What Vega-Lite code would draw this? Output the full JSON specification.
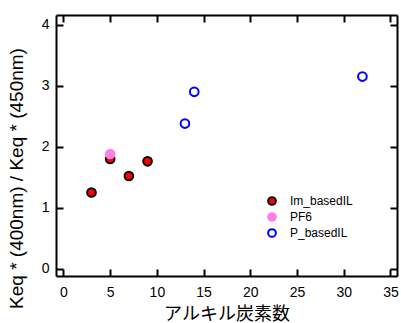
{
  "$schema": "https://vega.github.io/schema/vega-lite/v6.json",
  "width": 341,
  "height": 261,
  "autosize": {"type": "none"},
  "padding": {"left": 56, "top": 15, "right": 4, "bottom": 47},
  "background": "white",
  "config": {
    "view": {"stroke": null},
    "font": "Liberation Sans",
    "axis": {
      "domainColor": "black",
      "domainWidth": 2,
      "tickColor": "black",
      "tickWidth": 2,
      "tickSize": -7,
      "grid": false,
      "labelColor": "black",
      "titleColor": "black",
      "labelFont": "Liberation Sans",
      "labelFontSize": 14,
      "titleFontWeight": "normal"
    }
  },
  "data": {
    "values": [
      {"series": "Im_basedIL", "carbon": 3, "ratio": 1.25},
      {"series": "Im_basedIL", "carbon": 5, "ratio": 1.8},
      {"series": "Im_basedIL", "carbon": 7, "ratio": 1.52},
      {"series": "Im_basedIL", "carbon": 9, "ratio": 1.76},
      {"series": "PF6", "carbon": 5, "ratio": 1.88},
      {"series": "P_basedIL", "carbon": 13, "ratio": 2.38},
      {"series": "P_basedIL", "carbon": 14, "ratio": 2.9},
      {"series": "P_basedIL", "carbon": 32, "ratio": 3.15}
    ]
  },
  "layer": [
    {
      "mark": {"type": "point", "opacity": 0},
      "encoding": {
        "x": {"field": "carbon", "type": "quantitative",
          "scale": {"domain": [-0.8, 35.7], "nice": false, "zero": false},
          "axis": {"orient": "top", "labels": false, "title": null, "values": [0, 5, 10, 15, 20, 25, 30, 35]}},
        "y": {"field": "ratio", "type": "quantitative",
          "scale": {"domain": [-0.12, 4.16], "nice": false, "zero": false},
          "axis": {"orient": "right", "labels": false, "title": null, "values": [0, 1, 2, 3, 4]}}
      }
    },
    {
      "mark": {"type": "point", "shape": "circle", "size": 75, "strokeWidth": 2, "opacity": 1},
      "encoding": {
        "x": {"field": "carbon", "type": "quantitative",
          "axis": {"orient": "bottom", "title": "アルキル炭素数", "titleFont": "Noto Sans CJK JP", "titleFontSize": 18, "titlePadding": 6, "labelPadding": 16, "values": [0, 5, 10, 15, 20, 25, 30, 35]}},
        "y": {"field": "ratio", "type": "quantitative",
          "axis": {"orient": "left", "title": "Keq * (400nm) / Keq * (450nm)", "titleFont": "Liberation Sans", "titleFontSize": 19, "titlePadding": 15, "titleY": 163, "labelPadding": 14, "values": [0, 1, 2, 3, 4]}},
        "fill": {"field": "series", "type": "nominal",
          "scale": {"domain": ["Im_basedIL", "PF6", "P_basedIL"], "range": ["#ff0000", "#ff80e6", "white"]},
          "legend": {"title": null, "orient": "none", "legendX": 210, "legendY": 180, "labelFontSize": 12, "labelFont": "Liberation Sans", "labelColor": "black", "symbolSize": 60, "symbolStrokeWidth": 2, "rowPadding": 0, "labelOffset": 12}},
        "stroke": {"field": "series", "type": "nominal",
          "scale": {"domain": ["Im_basedIL", "PF6", "P_basedIL"], "range": ["black", "#ff80e6", "#0000ff"]},
          "legend": {"title": null, "orient": "none", "legendX": 210, "legendY": 180, "labelFontSize": 12, "labelFont": "Liberation Sans", "labelColor": "black", "symbolSize": 60, "symbolStrokeWidth": 2, "rowPadding": 0, "labelOffset": 12}}
      }
    }
  ]
}
